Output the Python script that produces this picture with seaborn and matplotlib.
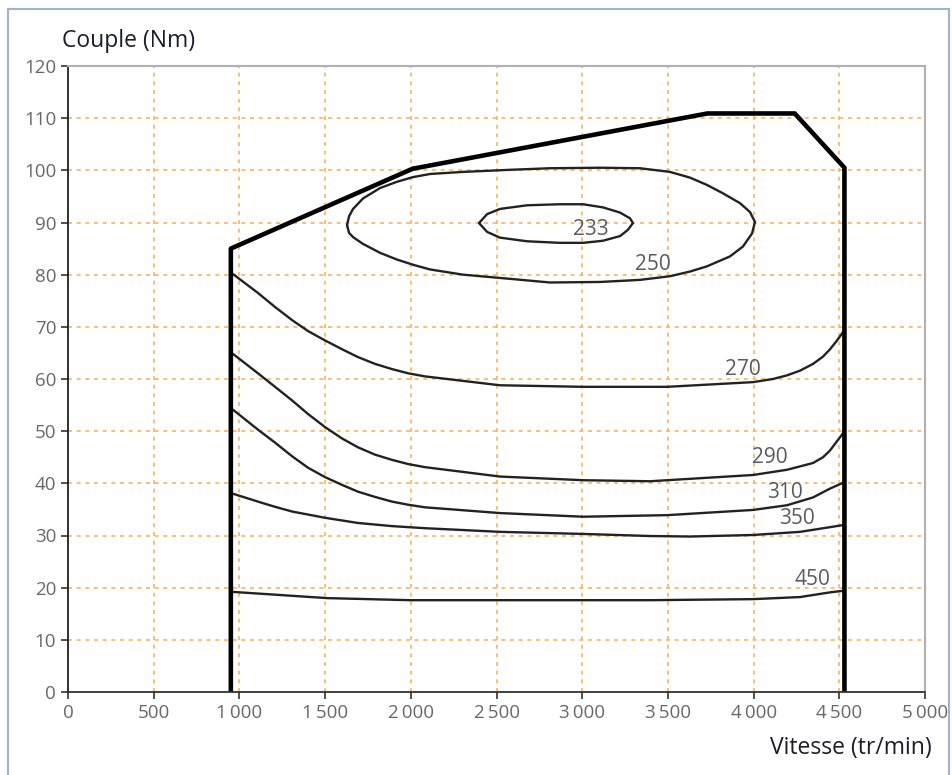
import pandas as pd
import matplotlib.pyplot as plt
import matplotlib.patches as mpatches
import seaborn as sns

# Full-load boundary (thick outline)
boundary_rpm = [950, 950, 2010, 3730, 4240, 4530, 4530]
boundary_nm = [0, 85, 100.3, 110.9, 110.9, 100.5, 0]

# Iso-consumption curves (g/kWh)
c233_rpm = [2398, 2445, 2520, 2678, 2870, 3005, 3121, 3221, 3279, 3296, 3267, 3221, 3121, 3005,
            2870, 2678, 2520, 2445, 2398]
c233_nm = [89.9, 91.6, 92.6, 93.3, 93.5, 93.5, 92.9, 91.9, 90.8, 89.9, 88.6, 87.4, 86.5, 86.1,
           86.1, 86.4, 87.1, 88.2, 89.9]

c250_rpm = [1628, 1640, 1663, 1721, 1820, 1919, 2013, 2112, 2305, 2579, 2812, 3104, 3337, 3512,
            3629, 3728, 3821, 3921, 3979, 4008, 3991, 3938, 3862, 3728, 3629, 3512, 3337, 3104,
            2812, 2579, 2305, 2112, 2013, 1919, 1820, 1721, 1663, 1640, 1628]
c250_nm = [89.5, 91.2, 92.6, 94.6, 96.6, 97.8, 98.7, 99.3, 99.7, 100.1, 100.4, 100.5, 100.4, 99.7,
           98.6, 97.2, 95.6, 93.7, 92.0, 90.1, 87.9, 85.4, 83.5, 81.6, 80.6, 79.7, 79.0, 78.6,
           78.5, 79.2, 80.0, 81.0, 81.9, 82.9, 84.2, 85.9, 87.2, 88.0, 89.5]

c270_rpm = [963, 1108, 1208, 1307, 1400, 1499, 1599, 1692, 1791, 1890, 1984, 2083, 2520, 3005,
            3495, 3997, 4113, 4195, 4271, 4347, 4405, 4446, 4487, 4522]
c270_nm = [80.1, 76.5, 73.8, 71.3, 69.2, 67.4, 65.7, 64.2, 62.9, 61.9, 61.1, 60.5, 58.8, 58.5,
           58.5, 59.4, 60.0, 60.7, 61.6, 62.9, 64.3, 65.7, 67.4, 69.0]

c290_rpm = [963, 1108, 1208, 1307, 1400, 1499, 1599, 1692, 1791, 1890, 1984, 2083, 2520, 3005,
            3396, 3997, 4195, 4347, 4405, 4446, 4487, 4522]
c290_nm = [64.8, 61.1, 58.5, 55.9, 53.3, 50.8, 48.6, 46.9, 45.5, 44.5, 43.7, 43.1, 41.3, 40.6,
           40.4, 41.6, 42.6, 43.9, 45.0, 46.3, 48.1, 49.6]

c310_rpm = [963, 1108, 1208, 1307, 1400, 1499, 1599, 1692, 1791, 1890, 1984, 2083, 2520, 3005,
            3495, 3997, 4195, 4347, 4446, 4522]
c310_nm = [54.1, 50.3, 47.8, 45.2, 43.0, 41.2, 39.7, 38.4, 37.4, 36.5, 35.9, 35.4, 34.3, 33.6,
           33.9, 34.9, 35.8, 37.3, 39.0, 40.1]

c350_rpm = [963, 1108, 1208, 1307, 1499, 1692, 1890, 2083, 2520, 3005, 3396, 3629, 3997, 4271,
            4446, 4522]
c350_nm = [38.0, 36.5, 35.5, 34.6, 33.4, 32.4, 31.8, 31.4, 30.7, 30.3, 29.9, 29.8, 30.1, 30.7,
           31.6, 32.0]

c450_rpm = [957, 1511, 1995, 3396, 3997, 4271, 4446, 4522]
c450_nm = [19.2, 18.0, 17.6, 17.6, 17.8, 18.2, 19.1, 19.4]

levels = ['233', '250', '270', '290', '310', '350', '450']
label_rpm = [3051, 3413, 3938, 4096, 4183, 4253, 4341]
label_nm = [88.6, 82.0, 61.9, 45.0, 38.3, 33.2, 21.5]

x_ticks = [0, 500, 1000, 1500, 2000, 2500, 3000, 3500, 4000, 4500, 5000]
x_ticklabels = ['0', '500', '1\u2009000', '1\u2009500', '2\u2009000', '2\u2009500', '3\u2009000',
                '3\u2009500', '4\u2009000', '4\u2009500', '5\u2009000']
y_ticks = [0, 10, 20, 30, 40, 50, 60, 70, 80, 90, 100, 110, 120]

curves = {'233': (c233_rpm, c233_nm), '250': (c250_rpm, c250_nm), '270': (c270_rpm, c270_nm),
          '290': (c290_rpm, c290_nm), '310': (c310_rpm, c310_nm), '350': (c350_rpm, c350_nm),
          '450': (c450_rpm, c450_nm)}

rows = []
for lvl, (xs, ys) in curves.items():
    for x, y in zip(xs, ys):
        rows.append({'level': lvl, 'rpm': x, 'nm': y})
df = pd.DataFrame(rows)
df_b = pd.DataFrame({'rpm': boundary_rpm, 'nm': boundary_nm})

sns.set_style("white")
plt.rcParams['font.family'] = ['Open Sans', 'DejaVu Sans']

fig = plt.figure(figsize=(9.52, 7.75), dpi=100)
ax = fig.add_axes([68 / 952, 83 / 775, 857 / 952, 626 / 775])

# frame around the figure
fig.patches.append(mpatches.Rectangle((8 / 952, -0.01), 941 / 952, 1 - 9 / 775 + 0.01,
                                      transform=fig.transFigure, fill=False,
                                      edgecolor='#9db3cf', linewidth=1.5))

ax.set_xlim(0, 5000)
ax.set_ylim(0, 120)
ax.set_xticks(x_ticks)
ax.set_xticklabels(x_ticklabels)
ax.set_yticks(y_ticks)
ax.grid(True, color='#f2bd6e', linestyle=(0, (2.2, 2.6)), linewidth=1.3)
ax.set_axisbelow(True)

sns.lineplot(data=df, x='rpm', y='nm', hue='level', units='level', estimator=None, sort=False,
             palette=['#222222'] * len(levels), linewidth=1.7, legend=False, ax=ax)
sns.lineplot(data=df_b, x='rpm', y='nm', estimator=None, sort=False, color='black',
             linewidth=3.3, ax=ax)

for lvl, lx, ly in zip(levels, label_rpm, label_nm):
    ax.text(lx, ly, lvl, fontsize=15, color='#5a5a62', ha='center', va='center')

ax.set_xlabel('')
ax.set_ylabel('')
ax.tick_params(axis='both', direction='out', length=5, width=1.2, color='#333333',
               labelsize=13.5, labelcolor='#686868', bottom=True, left=True)
ax.spines['left'].set_color('#222222')
ax.spines['bottom'].set_color('#333333')
ax.spines['left'].set_linewidth(1.3)
ax.spines['bottom'].set_linewidth(1.3)
ax.spines['top'].set_color('#b0b0b0')
ax.spines['right'].set_color('#b0b0b0')
ax.spines['top'].set_linewidth(1.5)
ax.spines['right'].set_linewidth(1.5)

fig.text(62 / 952, 1 - 41 / 775, 'Couple (Nm)', fontsize=16.5, color='#1c1c2c',
         ha='left', va='center')
fig.text(932 / 952, 1 - 748 / 775, 'Vitesse (tr/min)', fontsize=16.5, color='#1c1c2c',
         ha='right', va='center')

plt.savefig('out.png', dpi=100)
